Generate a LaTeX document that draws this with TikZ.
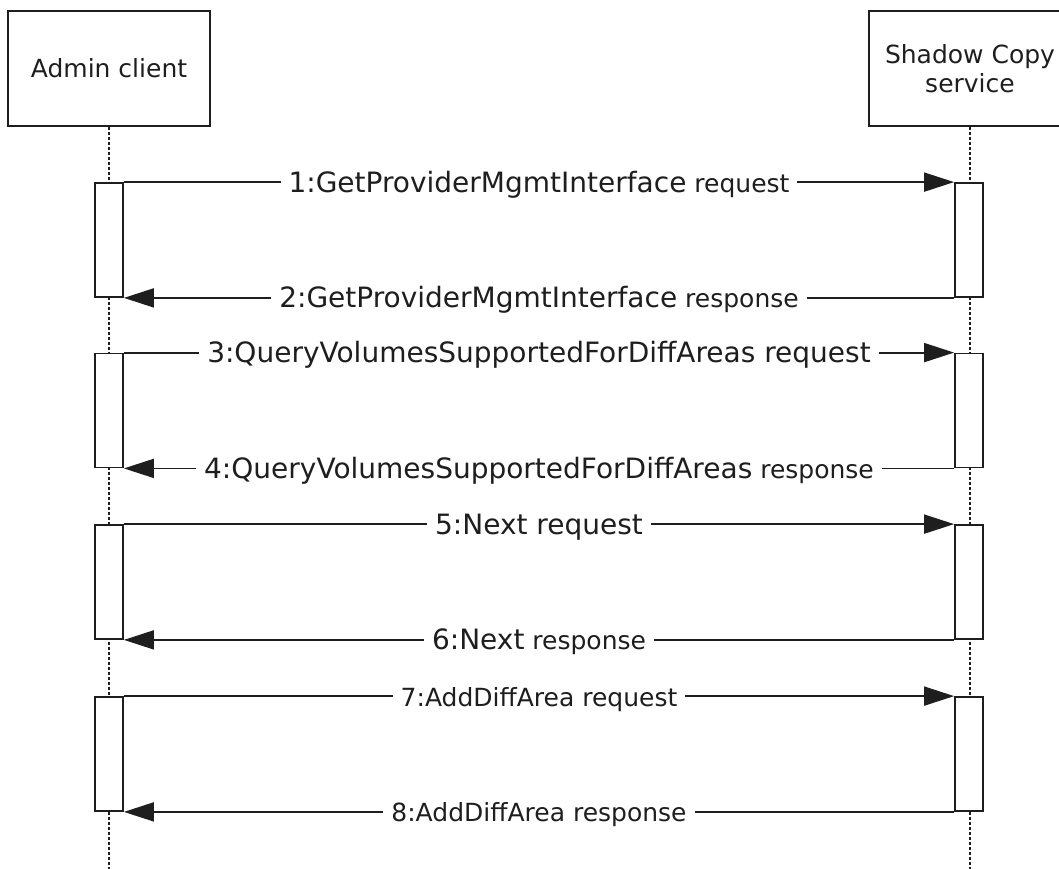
\documentclass[tikz,border=0pt]{standalone}
\usepackage{fontspec}
\setmainfont{DejaVu Sans}
\usetikzlibrary{arrows.meta}
\usetikzlibrary{positioning}
\definecolor{ink}{RGB}{30,30,30}
\newcommand{\bigpart}[1]{{\fontsize{28}{32}\selectfont #1}}
\tikzset{actor/.style = {draw, line width = 1.8, minimum width = 202, minimum height = 115, align = center}}
\tikzset{life/.style = {line width = 1.3, dash pattern = on 3pt off 2pt}}
\tikzset{bar/.style = {draw, fill = white, line width = 1.8, minimum width = 28, minimum height = 114, inner sep = 0}}
\tikzset{msg/.style = {line width = 1.8, -{Triangle[length = 30pt, width = 19pt]}}}
\tikzset{lbl/.style = {fill = white, inner xsep = 8pt, inner ysep = 0pt, text height = 20pt, text depth = 0pt}}

\begin{document}
\begin{tikzpicture}[x = 1pt, y = -1pt, color = ink, font = \fontsize{25}{29}\selectfont]
    \useasboundingbox (0, 0) rectangle (1059, 869);
    \clip (0, 0) rectangle (1059, 869);

    \node [actor] (admin) at (109, 68.5) {Admin client};
    \node [actor] (shadow) at (970, 68.5) {Shadow Copy\\service};
    \coordinate (adminend) at (109, 869);
    \coordinate (shadowend) at (970, 869);
    \draw [life] (admin) -- (adminend);
    \draw [life] (shadow) -- (shadowend);

    \node [bar] (a1) at (109, 240) {};
    \node [bar] (s1) at (969, 240) {};
    \node [bar] (a2) at (109, 410.5) {};
    \node [bar] (s2) at (969, 410.5) {};
    \node [bar] (a3) at (109, 582) {};
    \node [bar] (s3) at (969, 582) {};
    \node [bar] (a4) at (109, 754) {};
    \node [bar] (s4) at (969, 754) {};

    \draw [msg] (a1.north east) -- node [lbl] {\bigpart{1:GetProviderMgmtInterface} request} (s1.north west);
    \draw [msg] (s1.south west) -- node [lbl] {\bigpart{2:GetProviderMgmtInterface} response} (a1.south east);
    \draw [msg] (a2.north east) -- node [lbl] {\bigpart{3:QueryVolumesSupportedForDiffAreas request}} (s2.north west);
    \draw [msg] (s2.south west) -- node [lbl] {\bigpart{4:QueryVolumesSupportedForDiffAreas} response} (a2.south east);
    \draw [msg] (a3.north east) -- node [lbl] {\bigpart{5:Next request}} (s3.north west);
    \draw [msg] (s3.south west) -- node [lbl] {\bigpart{6:Next} response} (a3.south east);
    \draw [msg] (a4.north east) -- node [lbl] {7:AddDiffArea request} (s4.north west);
    \draw [msg] (s4.south west) -- node [lbl] {8:AddDiffArea response} (a4.south east);
\end{tikzpicture}
\end{document}
